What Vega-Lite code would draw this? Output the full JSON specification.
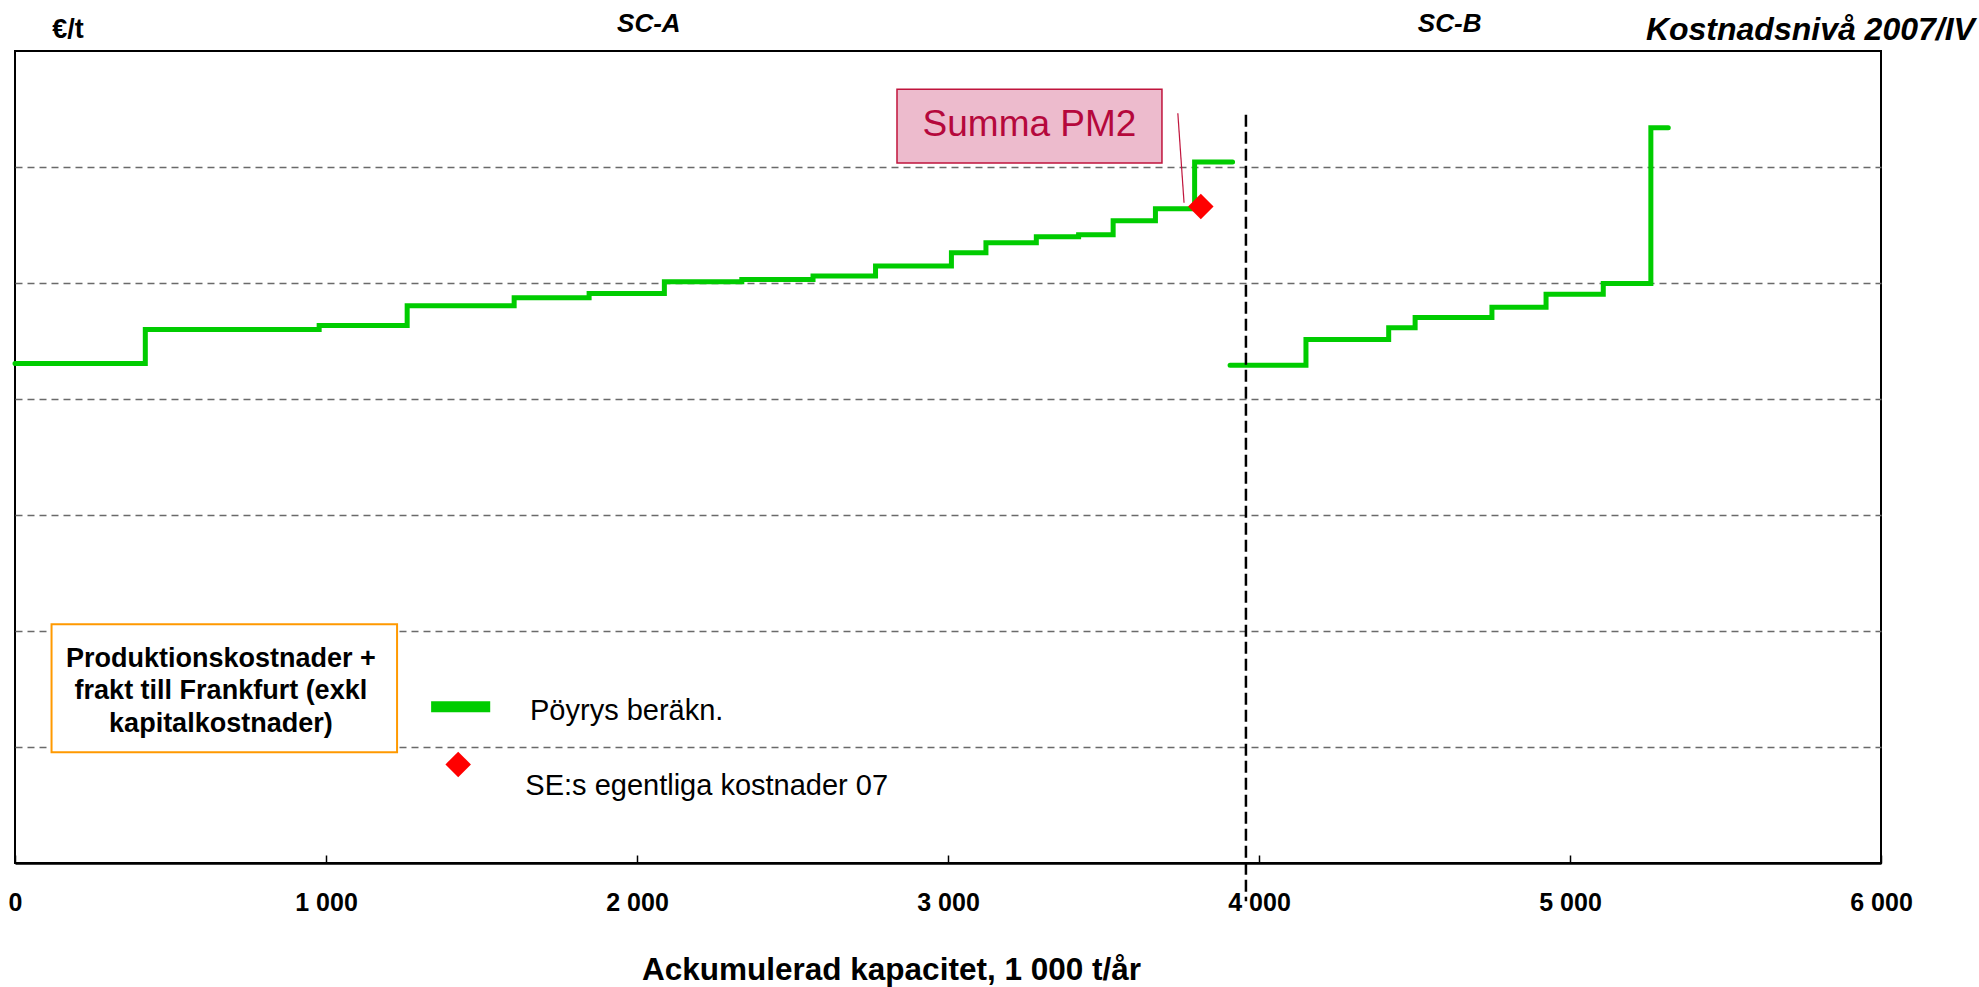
{
  "$schema": "https://vega.github.io/schema/vega-lite/v6.json",
  "width": 1866,
  "height": 812,
  "autosize": "none",
  "padding": {"left": 15, "top": 51, "right": 98, "bottom": 124},
  "background": "white",
  "config": {
    "view": {"stroke": "black", "strokeWidth": 2},
    "font": "Liberation Sans"
  },
  "datasets": {
    "steps": [
      {"series": "SC-A", "x": 0, "y": 430.7},
      {"series": "SC-A", "x": 419, "y": 460},
      {"series": "SC-A", "x": 978, "y": 463.4},
      {"series": "SC-A", "x": 1261, "y": 480.3},
      {"series": "SC-A", "x": 1605, "y": 487.2},
      {"series": "SC-A", "x": 1846, "y": 491},
      {"series": "SC-A", "x": 2088, "y": 501},
      {"series": "SC-A", "x": 2337, "y": 503},
      {"series": "SC-A", "x": 2566, "y": 506},
      {"series": "SC-A", "x": 2767, "y": 514.6},
      {"series": "SC-A", "x": 3011, "y": 526},
      {"series": "SC-A", "x": 3122, "y": 534.7},
      {"series": "SC-A", "x": 3284, "y": 539.8},
      {"series": "SC-A", "x": 3420, "y": 541.6},
      {"series": "SC-A", "x": 3531, "y": 553.6},
      {"series": "SC-A", "x": 3667, "y": 564},
      {"series": "SC-A", "x": 3793, "y": 604.3},
      {"series": "SC-A", "x": 3915, "y": 604.3},
      {"series": "SC-B", "x": 3907, "y": 429.2},
      {"series": "SC-B", "x": 4151, "y": 451.3},
      {"series": "SC-B", "x": 4417, "y": 461.4},
      {"series": "SC-B", "x": 4502, "y": 470.3},
      {"series": "SC-B", "x": 4749, "y": 479},
      {"series": "SC-B", "x": 4923, "y": 490.4},
      {"series": "SC-B", "x": 5107, "y": 499.6},
      {"series": "SC-B", "x": 5260, "y": 633.8},
      {"series": "SC-B", "x": 5316, "y": 633.8}
    ],
    "divider": [{"x": 3958, "y": 645, "y2": -33}],
    "summaBox": [{"x": 2836, "x2": 3688, "y": 667, "y2": 603.4}],
    "summaText": [{"x": 3262, "y": 627, "label": "Summa PM2"}],
    "leader": [{"x": 3739, "y": 646.3, "x2": 3759, "y2": 569.2}],
    "diamonds": [{"x": 3813, "y": 566, "what": "SE:s egentliga kostnader 07"}, {"x": 1425, "y": 85, "what": "legend"}],
    "noteBox": [{"x": 117.5, "x2": 1228.5, "y": 205.9, "y2": 95.5}],
    "noteText": [
      {"x": 662, "y": 169, "label": "Produktionskostnader +"},
      {"x": 662, "y": 141, "label": "frakt till Frankfurt (exkl"},
      {"x": 662, "y": 112.7, "label": "kapitalkostnader)"}
    ],
    "swatch": [{"x": 1338, "x2": 1528, "y": 139.4, "y2": 129.9}],
    "legendText": [
      {"x": 1656, "y": 123, "label": "Pöyrys beräkn."},
      {"x": 1641, "y": 58.4, "label": "SE:s egentliga kostnader 07"}
    ],
    "unit": [{"x": 120, "y": 711.2, "label": "€/t"}],
    "sections": [
      {"x": 2038, "y": 716, "label": "SC-A"},
      {"x": 4613, "y": 716, "label": "SC-B"}
    ],
    "level": [{"x": 6302, "y": 709.5, "label": "Kostnadsnivå 2007/IV"}]
  },
  "encoding": {
    "x": {"field": "x", "type": "quantitative", "scale": {"domain": [0, 6000], "nice": false, "zero": false},
      "axis": {
        "values": [0, 1000, 2000, 3000, 4000, 5000, 6000],
        "grid": false,
        "domainColor": "black", "domainWidth": 2.5,
        "tickColor": "black", "tickWidth": 1.5, "tickSize": -8,
        "labelPadding": 35,
        "labelFont": "Liberation Sans", "labelFontWeight": "bold", "labelFontSize": 25, "labelColor": "black",
        "labelFlush": false,
        "labelExpr": "replace(format(datum.value, ','), ',', ' ')",
        "title": "Ackumulerad kapacitet, 1 000 t/år",
        "titleFont": "Liberation Sans", "titleFontSize": 31.5, "titleFontWeight": "bold", "titleColor": "black",
        "titleX": 876, "titleY": 116, "titleBaseline": "alphabetic", "titleAlign": "center", "titleAngle": 0
      }
    },
    "y": {"field": "y", "type": "quantitative", "scale": {"domain": [0, 700], "nice": false, "zero": false},
      "axis": {
        "values": [100, 200, 300, 400, 500, 600],
        "grid": true, "gridColor": "#6a6a6a", "gridDash": [7, 5], "gridWidth": 1.5,
        "labels": false, "ticks": false, "domain": false, "title": null
      }
    }
  },
  "layer": [
    {
      "data": {"name": "noteBox"},
      "mark": {"type": "rect", "fill": "white", "stroke": "#FF9900", "strokeWidth": 2},
      "encoding": {"x2": {"field": "x2"}, "y2": {"field": "y2"}}
    },
    {
      "data": {"name": "noteText"},
      "mark": {"type": "text", "font": "Liberation Sans", "fontWeight": "bold", "fontSize": 27, "align": "center", "baseline": "alphabetic", "color": "black"},
      "encoding": {"text": {"field": "label"}}
    },
    {
      "data": {"name": "swatch"},
      "mark": {"type": "rect", "fill": "#00CC00"},
      "encoding": {"x2": {"field": "x2"}, "y2": {"field": "y2"}}
    },
    {
      "data": {"name": "legendText"},
      "mark": {"type": "text", "font": "Liberation Sans", "fontSize": 29, "align": "left", "baseline": "alphabetic", "color": "black"},
      "encoding": {"text": {"field": "label"}}
    },
    {
      "data": {"name": "summaBox"},
      "mark": {"type": "rect", "fill": "#EDBBCD", "stroke": "#C0143C", "strokeWidth": 1.5},
      "encoding": {"x2": {"field": "x2"}, "y2": {"field": "y2"}}
    },
    {
      "data": {"name": "summaText"},
      "mark": {"type": "text", "font": "Liberation Sans", "fontSize": 37, "align": "center", "baseline": "alphabetic", "color": "#B5083C"},
      "encoding": {"text": {"field": "label"}}
    },
    {
      "data": {"name": "leader"},
      "mark": {"type": "rule", "color": "#C0143C", "strokeWidth": 1.2},
      "encoding": {"x2": {"field": "x2"}, "y2": {"field": "y2"}}
    },
    {
      "data": {"name": "steps"},
      "mark": {"type": "line", "interpolate": "step-after", "color": "#00CC00", "strokeWidth": 5, "strokeCap": "round"},
      "encoding": {"detail": {"field": "series"}}
    },
    {
      "data": {"name": "divider"},
      "mark": {"type": "rule", "color": "black", "strokeWidth": 2.5, "strokeDash": [12, 5]},
      "encoding": {"y2": {"field": "y2"}}
    },
    {
      "data": {"name": "diamonds"},
      "mark": {"type": "point", "shape": "diamond", "filled": true, "color": "#FF0000", "size": 650, "opacity": 1},
      "encoding": {}
    },
    {
      "data": {"name": "unit"},
      "mark": {"type": "text", "font": "Liberation Sans", "fontWeight": "bold", "fontSize": 27, "align": "left", "baseline": "alphabetic", "color": "black"},
      "encoding": {"text": {"field": "label"}}
    },
    {
      "data": {"name": "sections"},
      "mark": {"type": "text", "font": "Liberation Sans", "fontWeight": "bold", "fontStyle": "italic", "fontSize": 26, "align": "center", "baseline": "alphabetic", "color": "black"},
      "encoding": {"text": {"field": "label"}}
    },
    {
      "data": {"name": "level"},
      "mark": {"type": "text", "font": "Liberation Sans", "fontWeight": "bold", "fontStyle": "italic", "fontSize": 32, "align": "right", "baseline": "alphabetic", "color": "black"},
      "encoding": {"text": {"field": "label"}}
    }
  ]
}
